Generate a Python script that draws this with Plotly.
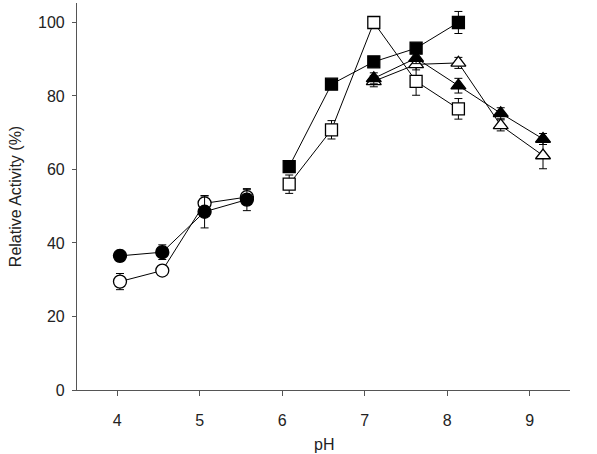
import plotly.graph_objects as go

# ---- data ----
ph_circles = [4, 4.5, 5, 5.5]
filled_circle_y = [36.5, 37.5, 48.5, 51.8]
filled_circle_err = [1.5, 2.0, 4.4, 3.0]
open_circle_y = [29.5, 32.5, 50.8, 52.5]
open_circle_err = [2.2, 0.5, 2.0, 2.0]

ph_squares = [6, 6.5, 7, 7.5, 8]
filled_square_y = [60.8, 83.2, 89.3, 93.0, 100.0]
filled_square_err = [1.0, 1.0, 1.0, 1.0, 3.0]
open_square_y = [56.0, 70.8, 100.0, 84.0, 76.5]
open_square_err = [2.5, 2.5, 0.5, 3.8, 2.8]

ph_triangles = [7, 7.5, 8, 8.5, 9]
filled_triangle_y = [84.8, 90.3, 82.8, 75.3, 68.3]
filled_triangle_err = [1.5, 1.5, 2.0, 1.5, 1.5]
open_triangle_y = [84.0, 88.6, 89.0, 72.0, 63.8]
open_triangle_err = [1.5, 1.5, 1.5, 1.5, 3.6]

tick_labels = ["4", "5", "6", "7", "8", "9"]

# the printed tick marks are slightly compressed relative to the plotted data
tick_scale = 82.5 / 84.6
tick_offset = -2.7 / 84.6
tick_positions = [4 + tick_offset + tick_scale * (int(t) - 4) for t in tick_labels]

fig = go.Figure()


def add_series(x, y, err, symbol, fill, size):
    fig.add_trace(go.Scatter(
        x=x, y=y, mode="lines+markers",
        line=dict(color="black", width=1),
        marker=dict(symbol=symbol, size=size, color=fill,
                    line=dict(color="black", width=1.3)),
        error_y=dict(type="data", array=err, visible=True,
                     color="black", thickness=1, width=4),
        showlegend=False,
    ))


add_series(ph_circles, open_circle_y, open_circle_err, "circle", "white", 13)
add_series(ph_circles, filled_circle_y, filled_circle_err, "circle", "black", 13)
add_series(ph_squares, open_square_y, open_square_err, "square", "white", 12)
add_series(ph_squares, filled_square_y, filled_square_err, "square", "black", 12)
add_series(ph_triangles, open_triangle_y, open_triangle_err, "triangle-up", "white", 13)
add_series(ph_triangles, filled_triangle_y, filled_triangle_err, "triangle-up", "black", 13)

axis_font = dict(family="Liberation Sans, Arial, sans-serif", size=16, color="#222")

fig.update_layout(
    width=597, height=454,
    margin=dict(l=77, r=27, t=3, b=64),
    plot_bgcolor="white", paper_bgcolor="white",
    font=axis_font,
    xaxis=dict(
        range=[3.492, 9.319],
        tickvals=tick_positions, ticktext=tick_labels,
        showgrid=False, zeroline=False,
        showline=True, linecolor="#555", linewidth=1.2,
        ticks="outside", ticklen=5, tickcolor="#555",
        ticklabelstandoff=11,
        automargin=False,
    ),
    yaxis=dict(
        range=[0, 105.3],
        tickvals=[0, 20, 40, 60, 80, 100],
        showgrid=False, zeroline=False,
        showline=True, linecolor="#555", linewidth=1.2,
        ticks="outside", ticklen=4, tickcolor="#555",
        ticklabelstandoff=4,
        automargin=False,
        title=dict(text="Relative Activity (%)", font=axis_font, standoff=12),
    ),
    annotations=[dict(
        text="pH", xref="paper", yref="paper", x=0.5, y=0,
        xanchor="center", yanchor="top", yshift=-44,
        showarrow=False, font=axis_font,
    )],
)

fig.write_html("out.html")
